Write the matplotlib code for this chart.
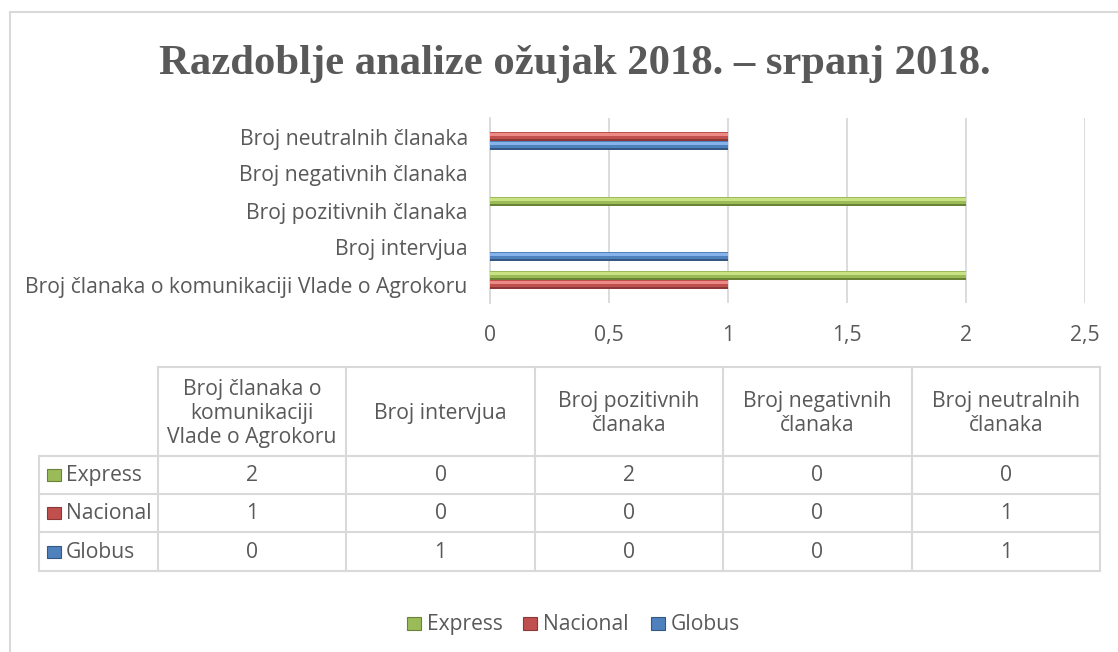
import numpy as np
import matplotlib
matplotlib.use("Agg")
import matplotlib.pyplot as plt
from matplotlib.patches import Rectangle

# data
categories = ["Broj članaka o komunikaciji Vlade o Agrokoru", "Broj intervjua",
              "Broj pozitivnih članaka", "Broj negativnih članaka", "Broj neutralnih članaka"]
table_headers = ["Broj članaka o\nkomunikaciji\nVlade o Agrokoru", "Broj intervjua",
                 "Broj pozitivnih\nčlanaka", "Broj negativnih\nčlanaka", "Broj neutralnih\nčlanaka"]
series = ["Express", "Nacional", "Globus"]
express = [2, 0, 2, 0, 0]
nacional = [1, 0, 0, 0, 1]
globus = [0, 1, 0, 0, 1]
x_ticks = [0, 0.5, 1, 1.5, 2, 2.5]
x_tick_labels = ["0", "0,5", "1", "1,5", "2", "2,5"]

colors = {"Express": "#9BBB59", "Nacional": "#C0504D", "Globus": "#4F81BD"}
light = {"Express": "#C9E384", "Nacional": "#EE8A86", "Globus": "#86B4EA"}
dark = {"Express": "#6A8236", "Nacional": "#8C3836", "Globus": "#345884"}
values = {"Express": express, "Nacional": nacional, "Globus": globus}

txt = "#595959"
grid = "#D9D9D9"
sans = "Open Sans"
fs = 15.2

W, H = 1118, 652
fig = plt.figure(figsize=(W / 100, H / 100), dpi=100)
fig.patch.set_facecolor("white")

# plot area in pixels
px_l, px_r, px_t, px_b = 490, 1085, 118, 303
ax = fig.add_axes([px_l / W, 1 - px_b / H, (px_r - px_l) / W, (px_b - px_t) / H])

y = np.arange(len(categories))
h = 0.245
offsets = {"Globus": -h, "Nacional": 0, "Express": h}
for s in series:
    v = np.array(values[s], dtype=float)
    yy = y + offsets[s]
    ax.barh(yy, v, height=h, color=colors[s], linewidth=0, zorder=3)
    # bevel: lighter top, darker bottom
    ax.barh(yy + h * 0.22, v, height=h * 0.3, color=light[s], linewidth=0, zorder=4)
    ax.barh(yy - h * 0.38, v, height=h * 0.24, color=dark[s], linewidth=0, zorder=4)

ax.set_xlim(0, 2.5)
ax.set_ylim(-0.5, 4.5)
ax.set_xticks(x_ticks)
ax.set_xticklabels(x_tick_labels)
ax.set_yticks(y)
ax.set_yticklabels(categories)
ax.xaxis.grid(True, color=grid, linewidth=1.3, zorder=0)
ax.set_axisbelow(True)
for side in ["top", "right", "bottom"]:
    ax.spines[side].set_visible(False)
ax.spines["left"].set_color(grid)
ax.spines["left"].set_linewidth(1.3)
ax.tick_params(axis="both", length=0, colors=txt, labelsize=fs)
ax.tick_params(axis="x", pad=16)
ax.tick_params(axis="y", pad=16)
for lab in ax.get_xticklabels() + ax.get_yticklabels():
    lab.set_fontfamily(sans)

# overlay in pixel coordinates for border, title, table and legend
ov = fig.add_axes([0, 0, 1, 1], zorder=-1)
ov.set_xlim(0, W)
ov.set_ylim(H, 0)
ov.axis("off")
ov2 = fig.add_axes([0, 0, 1, 1], zorder=5)
ov2.set_xlim(0, W)
ov2.set_ylim(H, 0)
ov2.axis("off")
ov2.patch.set_alpha(0)

# chart border
ov.plot([10, 10], [12, H + 5], color=grid, lw=1.5)
ov.plot([10, W + 5], [12, 12], color=grid, lw=1.5)

ov2.text(575, 74, "Razdoblje analize ožujak 2018. – srpanj 2018.", ha="center", va="baseline",
         fontsize=30.7, fontweight="bold", family="Liberation Serif", color=txt)

# data table
col_x = np.linspace(158, 1100, len(categories) + 1)
row_y = [367, 456, 494, 532, 571]
tl = 39
lw = 1.5
ov2.plot([col_x[0], col_x[-1]], [row_y[0], row_y[0]], color=grid, lw=lw)
for ry in row_y[1:]:
    ov2.plot([tl, col_x[-1]], [ry, ry], color=grid, lw=lw)
for cx in col_x:
    ov2.plot([cx, cx], [row_y[0], row_y[-1]], color=grid, lw=lw)
ov2.plot([tl, tl], [row_y[1], row_y[-1]], color=grid, lw=lw)

for i, hd in enumerate(table_headers):
    ov2.text((col_x[i] + col_x[i + 1]) / 2, (row_y[0] + row_y[1]) / 2 + 2, hd, ha="center", va="center",
             fontsize=fs, family=sans, color=txt, linespacing=1.17)

for r, s in enumerate(series):
    base = row_y[r + 2] - 13
    ov2.add_patch(Rectangle((47, base - 12), 14, 12, facecolor=colors[s], edgecolor=dark[s], lw=0.8))
    ov2.text(66, base, s, ha="left", va="baseline", fontsize=fs, family=sans, color=txt)
    for i, v in enumerate(values[s]):
        ov2.text((col_x[i] + col_x[i + 1]) / 2, base, str(v), ha="center", va="baseline",
                 fontsize=fs, family=sans, color=txt)

# legend
leg_x = [407, 523, 651]
for lx, s in zip(leg_x, series):
    ov2.add_patch(Rectangle((lx, 617), 14, 13, facecolor=colors[s], edgecolor=dark[s], lw=0.8))
    ov2.text(lx + 20, 630, s, ha="left", va="baseline", fontsize=fs, family=sans, color=txt)

fig.savefig("out.png", dpi=100)
